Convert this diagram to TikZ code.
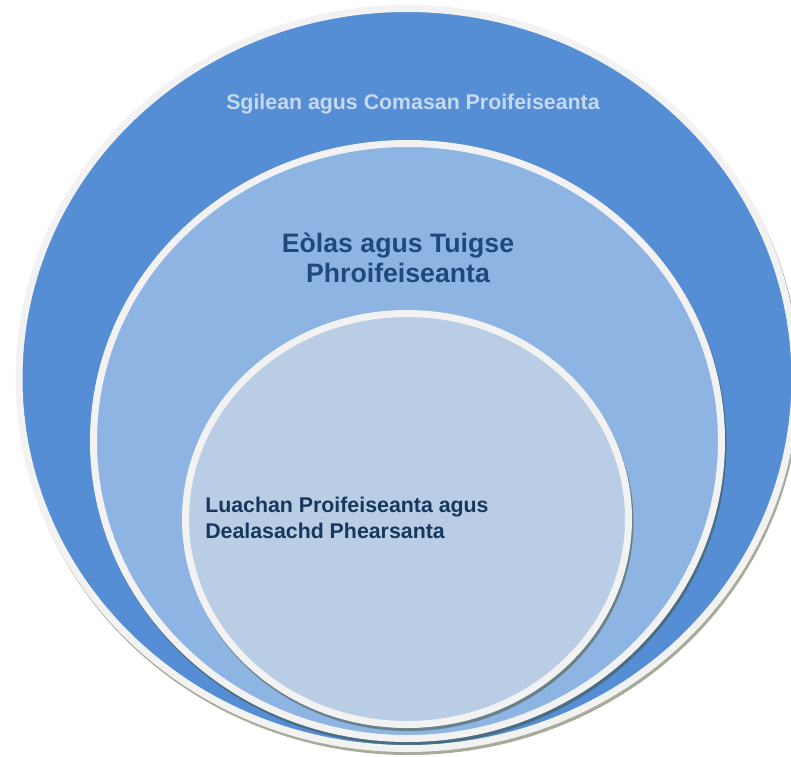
\documentclass[tikz,border=0pt]{standalone}
\usepackage{fontspec}
\setmainfont{Liberation Sans}
\definecolor{outerc}{HTML}{558ED5}
\definecolor{midc}{HTML}{8EB4E3}
\definecolor{innerc}{HTML}{B9CDE5}
\definecolor{rimc}{HTML}{F2F2F2}
\definecolor{shadc}{RGB}{60,70,30}
\definecolor{txtone}{HTML}{C6D9F1}
\definecolor{txttwo}{HTML}{1F497D}
\definecolor{txtthree}{HTML}{17375E}
\tikzset{
  ring/.style={draw=rimc, line width=5.25bp},
  shade ring/.style={fill=shadc, fill opacity=0.45},
  lbl/.style={inner sep=0pt, font=\bfseries}
}
\begin{document}
\begin{tikzpicture}[x=0.75bp,y=0.75bp]
\useasboundingbox (0,0) rectangle (791,-757);
\clip (0,0) rectangle (791,-757);
% outer
\fill[shade ring] (408.5,-381.5) ellipse [x radius=391.5, y radius=373.5];
\path[ring, fill=outerc] (407,-378.5) ellipse [x radius=388, y radius=370];
% middle
\fill[shade ring] (409,-444) ellipse [x radius=317.5, y radius=301];
\path[ring, fill=midc] (407.5,-441) ellipse [x radius=314, y radius=297.5];
% inner
\fill[shade ring] (408.5,-522) ellipse [x radius=225, y radius=209];
\path[ring, fill=innerc] (407,-519) ellipse [x radius=221.5, y radius=205.5];
% labels
\node[lbl, text=txtone, font=\bfseries\fontsize{16bp}{19bp}\selectfont] (skills) at (413,-104) {Sgilean agus Comasan Proifeiseanta};
\node[lbl, text=txttwo, align=center, font=\bfseries\fontsize{20bp}{22.5bp}\selectfont] (knowledge) at (398,-258) {Eòlas agus Tuigse\\Phroifeiseanta};
\node[lbl, text=txtthree, align=left, anchor=west, font=\bfseries\fontsize{16bp}{19.5bp}\selectfont] (values) at (205,-518) {Luachan Proifeiseanta agus\\Dealasachd Phearsanta};
\end{tikzpicture}
\end{document}
